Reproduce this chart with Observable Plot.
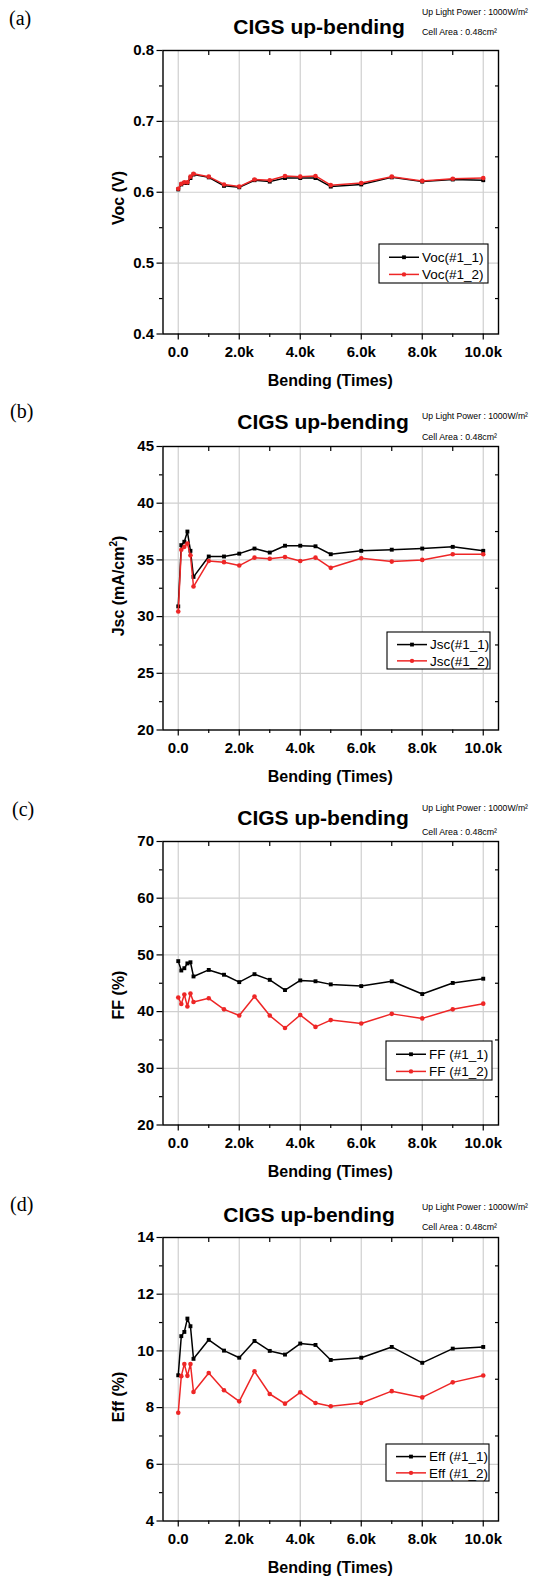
<!DOCTYPE html>
<html>
<head>
<meta charset="utf-8">
<script src="https://cdn.jsdelivr.net/npm/d3@7"></script>
<script src="https://cdn.jsdelivr.net/npm/@observablehq/plot@0.6"></script>
<style>
  html, body { margin: 0; padding: 0; background: #fff; }
  #chart { width: 535px; }
  #chart svg { display: block; }
</style>
</head>
<body>
<div id="chart"></div>
<script>
// ---------------- data ----------------
const bending = [0, 100, 200, 300, 400, 500, 1000, 1500, 2000, 2500, 3000, 3500, 4000, 4500, 5000, 6000, 7000, 8000, 9000, 10000];

const vocS1 = [0.604, 0.611, 0.613, 0.613, 0.620, 0.625, 0.621, 0.609, 0.607, 0.617, 0.615, 0.620, 0.620, 0.620, 0.608, 0.611, 0.621, 0.615, 0.618, 0.617];
const vocS2 = [0.605, 0.612, 0.614, 0.614, 0.622, 0.626, 0.622, 0.611, 0.608, 0.618, 0.617, 0.623, 0.622, 0.623, 0.610, 0.613, 0.622, 0.616, 0.619, 0.620];

const jscS1 = [30.9, 36.3, 36.6, 37.5, 35.8, 33.5, 35.3, 35.3, 35.55, 36.0, 35.65, 36.25, 36.25, 36.2, 35.5, 35.8, 35.9, 36.0, 36.15, 35.8];
const jscS2 = [30.45, 35.9, 36.15, 36.45, 35.4, 32.65, 34.9, 34.8, 34.5, 35.2, 35.1, 35.25, 34.9, 35.2, 34.3, 35.15, 34.85, 35.0, 35.5, 35.5];

const ffS1 = [48.9, 47.25, 47.65, 48.5, 48.7, 46.2, 47.35, 46.5, 45.2, 46.6, 45.6, 43.8, 45.5, 45.35, 44.8, 44.5, 45.35, 43.1, 45.05, 45.8];
const ffS2 = [42.5, 41.35, 43.0, 40.9, 43.2, 41.7, 42.35, 40.4, 39.3, 42.65, 39.3, 37.1, 39.4, 37.3, 38.5, 37.9, 39.6, 38.8, 40.4, 41.4];

const effS1 = [9.14, 10.52, 10.67, 11.14, 10.87, 9.72, 10.39, 10.01, 9.76, 10.35, 10.0, 9.87, 10.26, 10.21, 9.68, 9.76, 10.14, 9.58, 10.08, 10.14];
const effS2 = [7.82, 9.11, 9.54, 9.12, 9.54, 8.55, 9.22, 8.61, 8.22, 9.28, 8.48, 8.14, 8.54, 8.16, 8.05, 8.16, 8.58, 8.36, 8.89, 9.13];

const xTickValues = [0, 2000, 4000, 6000, 8000, 10000];
const xTickLabels = ["0.0", "2.0k", "4.0k", "6.0k", "8.0k", "10.0k"];
const xMinorTicks = [1000, 3000, 5000, 7000, 9000];

const vocMajor = [0.4, 0.5, 0.6, 0.7, 0.8];
const vocLabels = ["0.4", "0.5", "0.6", "0.7", "0.8"];
const vocMinor = [0.45, 0.55, 0.65, 0.75];

const jscMajor = [20, 25, 30, 35, 40, 45];
const jscLabels = ["20", "25", "30", "35", "40", "45"];
const jscMinor = [22.5, 27.5, 32.5, 37.5, 42.5];

const ffMajor = [20, 30, 40, 50, 60, 70];
const ffLabels = ["20", "30", "40", "50", "60", "70"];
const ffMinor = [25, 35, 45, 55, 65];

const effMajor = [4, 6, 8, 10, 12, 14];
const effLabels = ["4", "6", "8", "10", "12", "14"];
const effMinor = [5, 7, 9, 11, 13];

const panelTags = ["(a)", "(b)", "(c)", "(d)"];
const titleText = "CIGS up-bending";
const annText1 = "Up Light Power : 1000W/m\u00B2";
const annText2 = "Cell Area : 0.48cm\u00B2";
const xAxisTitle = "Bending (Times)";
const legendNames = [["Voc(#1_1)", "Voc(#1_2)"], ["Jsc(#1_1)", "Jsc(#1_2)"], ["FF (#1_1)", "FF (#1_2)"], ["Eff (#1_1)", "Eff (#1_2)"]];

// ---------------- panels ----------------
const panels = [
  { s1: vocS1, s2: vocS2, domain: [0.4, 0.8], major: vocMajor, labels: vocLabels, minor: vocMinor, ylab: "Voc (V)" },
  { s1: jscS1, s2: jscS2, domain: [20, 45], major: jscMajor, labels: jscLabels, minor: jscMinor, ylab: "Jsc (mA/cm", ylabSup: "2", ylabTail: ")" },
  { s1: ffS1, s2: ffS2, domain: [20, 70], major: ffMajor, labels: ffLabels, minor: ffMinor, ylab: "FF (%)" },
  { s1: effS1, s2: effS2, domain: [4, 14], major: effMajor, labels: effLabels, minor: effMinor, ylab: "Eff (%)" }
];

// layout (pixels, panel-local)
const FRAME_H = 283.5;
const layouts = [
  { height: 396, mt: 50, title: [319, 33.5], ann: [422, 15, 35], tag: [9, 25], legend: [379, 244, 109, 39], ylab: [123.5, 198] },
  { height: 396, mt: 50, title: [323, 33], ann: [422, 23, 44], tag: [10, 22], legend: [387, 236, 103, 37], ylab: [123.5, 190] },
  { height: 396, mt: 49, title: [323, 33], ann: [422, 19, 43], tag: [12, 23.5], legend: [386, 249, 106, 39], ylab: [123.5, 203] },
  { height: 389, mt: 49, title: [309, 33.5], ann: [422, 22, 42], tag: [10, 23], legend: [386, 256, 103, 37], ylab: [123.5, 209] }
];

const BLACK = "#000000";
const RED = "#ee2626";
const GRID = "#cfcfcf";
const SANS = "'Liberation Sans', Arial, Helvetica, sans-serif";
const SERIF = "'Liberation Serif', 'Times New Roman', serif";

const root = document.getElementById("chart");

panels.forEach((p, k) => {
  const L = layouts[k];
  const rows1 = bending.map((b, i) => ({ x: b, y: p.s1[i] }));
  const rows2 = bending.map((b, i) => ({ x: b, y: p.s2[i] }));
  const xfmt = d => xTickLabels[xTickValues.indexOf(d)];
  const yfmt = d => p.labels[p.major.indexOf(d)];
  const blank = () => "";

  const svg = Plot.plot({
    width: 535,
    height: L.height,
    marginLeft: 162.5,
    marginRight: 37,
    marginTop: L.mt,
    marginBottom: L.height - L.mt - FRAME_H,
    x: { domain: [-500, 10500] },
    y: { domain: p.domain },
    style: { fontFamily: SANS, background: "#fff", color: "#000", overflow: "visible" },
    marks: [
      Plot.gridX(xTickValues, { stroke: GRID, strokeOpacity: 1, strokeWidth: 1.2 }),
      Plot.gridY(p.major.slice(1, -1), { stroke: GRID, strokeOpacity: 1, strokeWidth: 1.2 }),
      Plot.axisX(xTickValues, { anchor: "bottom", tickSize: 6, tickPadding: 6, tickFormat: xfmt, fontSize: 15, fontWeight: "bold", label: null, strokeWidth: 1.2 }),
      Plot.axisX(xMinorTicks, { anchor: "bottom", tickSize: 3.5, tickFormat: blank, label: null, strokeWidth: 1.2 }),
      Plot.axisX(xMinorTicks, { anchor: "top", tickSize: 4, dy: 4, tickFormat: blank, label: null, strokeWidth: 1.2 }),
      Plot.axisY(p.major, { anchor: "left", tickSize: 6, tickPadding: 3, tickFormat: yfmt, fontSize: 15, fontWeight: "bold", label: null, strokeWidth: 1.2 }),
      Plot.axisY(p.minor, { anchor: "left", tickSize: 3.5, tickFormat: blank, label: null, strokeWidth: 1.2 }),
      Plot.axisY(p.minor, { anchor: "right", tickSize: 4, dx: -4, tickFormat: blank, label: null, strokeWidth: 1.2 }),
      Plot.frame({ stroke: BLACK, strokeWidth: 1.4 }),
      Plot.line(rows1, { x: "x", y: "y", stroke: BLACK, strokeWidth: 1.5 }),
      Plot.dot(rows1, { x: "x", y: "y", symbol: "square", fill: BLACK, r: 2.2 }),
      Plot.line(rows2, { x: "x", y: "y", stroke: RED, strokeWidth: 1.5 }),
      Plot.dot(rows2, { x: "x", y: "y", symbol: "circle", fill: RED, r: 2.3 })
    ]
  });

  const s = d3.select(svg);
  const g = s.append("g").attr("font-family", SANS).attr("fill", "#000").attr("text-anchor", "start");

  // panel tag
  g.append("text").attr("x", L.tag[0]).attr("y", L.tag[1]).attr("text-anchor", "start")
    .attr("font-family", SERIF).attr("font-size", 20).text(panelTags[k]);

  // title
  g.append("text").attr("x", L.title[0]).attr("y", L.title[1])
    .attr("text-anchor", "middle").attr("font-size", 21).attr("font-weight", "bold").text(titleText);

  // annotations
  const ax = L.ann[0];
  g.append("text").attr("x", ax).attr("y", L.ann[1]).attr("font-size", 9).attr("text-anchor", "start")
    .attr("textLength", 106).attr("lengthAdjust", "spacingAndGlyphs").text(annText1);
  g.append("text").attr("x", ax).attr("y", L.ann[2]).attr("font-size", 9).attr("text-anchor", "start")
    .attr("textLength", 75).attr("lengthAdjust", "spacingAndGlyphs").text(annText2);

  // y-axis title
  const yt = g.append("text")
    .attr("transform", `translate(${L.ylab[0]},${L.ylab[1]}) rotate(-90)`)
    .attr("text-anchor", "middle").attr("font-size", 16).attr("font-weight", "bold");
  yt.append("tspan").text(p.ylab);
  if (p.ylabSup) {
    yt.append("tspan").attr("font-size", 10).attr("dy", -7).text(p.ylabSup);
    yt.append("tspan").attr("dy", 7).text(p.ylabTail);
  }

  // x-axis title
  g.append("text").attr("x", 330.25).attr("y", L.mt + FRAME_H + 52.5)
    .attr("text-anchor", "middle").attr("font-size", 16).attr("font-weight", "bold").text(xAxisTitle);

  // legend
  const [lx, ly, lw, lh] = L.legend;
  const lg = g.append("g");
  lg.append("rect").attr("x", lx).attr("y", ly).attr("width", lw).attr("height", lh)
    .attr("fill", "#fff").attr("stroke", "#000").attr("stroke-width", 1.1);
  const rowsY = [ly + lh * 0.34, ly + lh * 0.78];
  [BLACK, RED].forEach((c, j) => {
    const yy = rowsY[j];
    lg.append("line").attr("x1", lx + 10).attr("x2", lx + 40).attr("y1", yy).attr("y2", yy)
      .attr("stroke", c).attr("stroke-width", 1.5);
    if (j === 0) {
      lg.append("rect").attr("x", lx + 25 - 1.9).attr("y", yy - 1.9).attr("width", 3.8).attr("height", 3.8).attr("fill", c);
    } else {
      lg.append("circle").attr("cx", lx + 25).attr("cy", yy).attr("r", 2.2).attr("fill", c);
    }
    lg.append("text").attr("x", lx + 43).attr("y", yy + 4.8).attr("font-size", 13.5)
      .attr("text-anchor", "start").text(legendNames[k][j]);
  });

  root.appendChild(svg);
});
</script>
</body>
</html>
